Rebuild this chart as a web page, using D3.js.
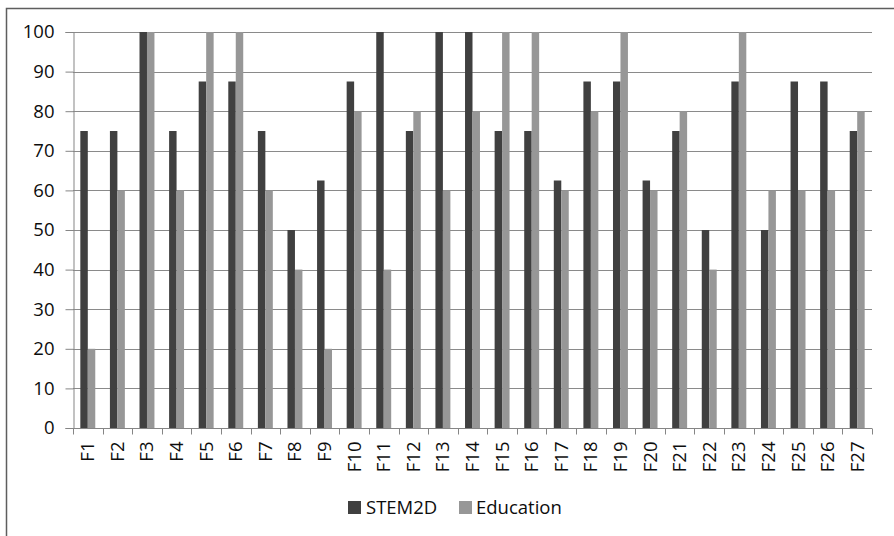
<!DOCTYPE html>
<html>
<head>
<meta charset="utf-8">
<script src="https://cdn.jsdelivr.net/npm/d3@7"></script>
<style>
  html, body { margin: 0; padding: 0; background: #fff; }
  svg { display: block; }
  text { font-family: "Open Sans", "Noto Sans", sans-serif; fill: #0d0d0d; }
</style>
</head>
<body>
<svg id="chart" width="894" height="536"></svg>
<script>
// Per-feature scores for the two groups
const categories = ["F1","F2","F3","F4","F5","F6","F7","F8","F9","F10","F11","F12","F13","F14",
  "F15","F16","F17","F18","F19","F20","F21","F22","F23","F24","F25","F26","F27"];
const stem2d = [75, 75, 100, 75, 87.5, 87.5, 75, 50, 62.5, 87.5, 100, 75, 100, 100,
  75, 75, 62.5, 87.5, 87.5, 62.5, 75, 50, 87.5, 50, 87.5, 87.5, 75];
const education = [20, 60, 100, 60, 100, 100, 60, 40, 20, 80, 40, 80, 60, 80,
  100, 100, 60, 80, 100, 60, 80, 40, 100, 60, 60, 60, 80];
const seriesNames = ["STEM2D", "Education"];
const seriesColors = ["#404040", "#979797"];
const yTicks = [0, 10, 20, 30, 40, 50, 60, 70, 80, 90, 100];

const svg = d3.select("#chart");
const plot = { left: 73, right: 872, top: 32, bottom: 428 };
const fontSize = "18.5px";

// Outer frame
svg.append("rect")
  .attr("x", 6.5).attr("y", 8.5).attr("width", 920).attr("height", 560)
  .attr("fill", "none").attr("stroke", "#5e5e5e").attr("stroke-width", 1.5);

const x = d3.scaleBand().domain(categories).range([plot.left, plot.right]).paddingInner(0).paddingOuter(0);
const y = d3.scaleLinear().domain([0, 100]).range([plot.bottom, plot.top]);
const groupWidth = x.bandwidth() * 0.505;
const xs = d3.scaleBand().domain(seriesNames).range([0, groupWidth]);

// Horizontal gridlines
svg.append("g").selectAll("line").data(yTicks.filter(d => d > 0)).join("line")
  .attr("x1", plot.left).attr("x2", plot.right)
  .attr("y1", d => Math.round(y(d)) + 0.5).attr("y2", d => Math.round(y(d)) + 0.5)
  .attr("stroke", "#8a8a8a").attr("stroke-width", 1);

// Y axis
const yAxis = d3.axisLeft(y).tickValues(yTicks).tickSize(8).tickPadding(11);
const yg = svg.append("g").attr("transform", `translate(${plot.left + 0.5},0)`).call(yAxis);
yg.select(".domain").attr("stroke", "#858585");
yg.selectAll(".tick line").attr("stroke", "#858585");
yg.selectAll(".tick text").style("font-size", fontSize).attr("fill", "#0d0d0d");

// Bars
const rows = categories.map((c, i) => ({ cat: c, vals: [stem2d[i], education[i]] }));
const groups = svg.append("g").selectAll("g").data(rows).join("g")
  .attr("transform", d => `translate(${x(d.cat) + (x.bandwidth() - groupWidth) / 2},0)`);
groups.selectAll("rect").data(d => d.vals.map((v, k) => ({ v, k }))).join("rect")
  .attr("x", d => xs(seriesNames[d.k]))
  .attr("width", xs.bandwidth())
  .attr("y", d => y(d.v))
  .attr("height", d => y(0) - y(d.v))
  .attr("fill", d => seriesColors[d.k]);

// X axis with ticks at category boundaries
const xg = svg.append("g").attr("transform", `translate(0,${plot.bottom + 0.5})`);
xg.append("line").attr("x1", plot.left).attr("x2", plot.right)
  .attr("stroke", "#858585");
const bounds = categories.map(c => x(c)).concat([plot.right]);
xg.selectAll(".xt").data(bounds).join("line").attr("class", "xt")
  .attr("x1", d => Math.round(d) + 0.5).attr("x2", d => Math.round(d) + 0.5)
  .attr("y1", 0).attr("y2", 6).attr("stroke", "#858585");
xg.selectAll(".xl").data(categories).join("text").attr("class", "xl")
  .attr("transform", d => `translate(${x(d) + x.bandwidth() / 2 + 6.5},13) rotate(-90)`)
  .attr("text-anchor", "end")
  .style("font-size", fontSize)
  .text(d => d);

// Legend
const legend = svg.append("g");
const legendItems = [{ name: seriesNames[0], color: seriesColors[0], x: 348, tx: 366 },
                     { name: seriesNames[1], color: seriesColors[1], x: 459, tx: 476 }];
legendItems.forEach(it => {
  legend.append("rect").attr("x", it.x).attr("y", 501).attr("width", 13).attr("height", 13)
    .attr("fill", it.color);
  legend.append("text").attr("x", it.tx).attr("y", 514).style("font-size", fontSize).text(it.name);
});
</script>
</body>
</html>
